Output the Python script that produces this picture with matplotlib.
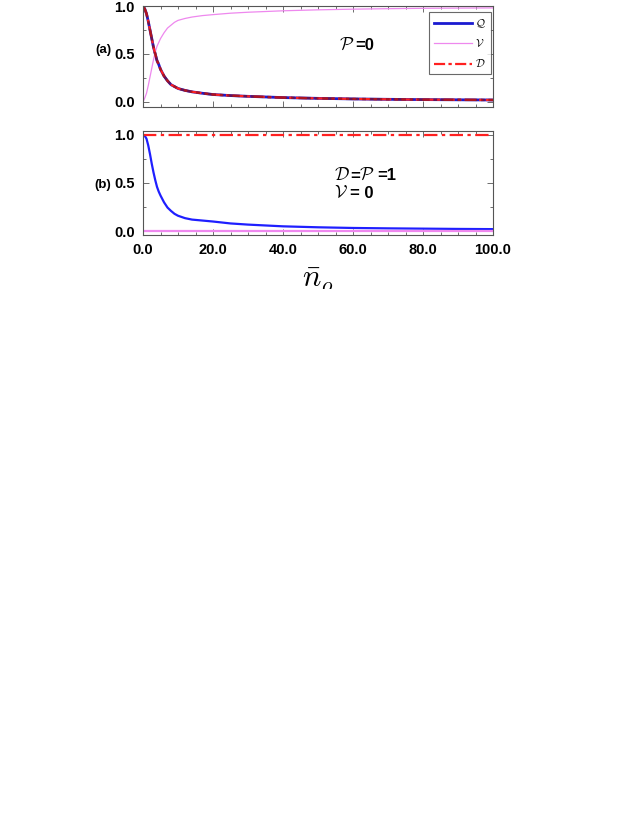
import matplotlib
matplotlib.use("Agg")
import matplotlib.pyplot as plt
from matplotlib.ticker import MultipleLocator, FormatStrFormatter
from matplotlib.patches import Rectangle

plt.rcParams['font.family'] = ['Liberation Sans', 'DejaVu Sans']
plt.rcParams['mathtext.fontset'] = 'cm'

# data
n_bar = [0, 0.5, 1, 1.5, 2, 2.5, 3, 3.5, 4, 4.5, 5, 6, 7, 8, 9, 10, 12, 14, 17, 20,
         25, 30, 40, 50, 60, 70, 80, 90, 100]
Q_a = [1.0, 0.97, 0.92, 0.84, 0.75, 0.66, 0.57, 0.50, 0.43, 0.39, 0.34, 0.27, 0.22,
       0.18, 0.16, 0.14, 0.12, 0.105, 0.09, 0.077, 0.066, 0.058, 0.045, 0.037, 0.031,
       0.027, 0.024, 0.022, 0.02]
D_a = Q_a
V_a = [0.0, 0.04, 0.09, 0.17, 0.26, 0.35, 0.44, 0.52, 0.58, 0.62, 0.66, 0.72, 0.77,
       0.80, 0.83, 0.85, 0.87, 0.885, 0.9, 0.91, 0.925, 0.935, 0.95, 0.96, 0.967,
       0.972, 0.976, 0.978, 0.98]
Q_b = [1.0, 0.99, 0.96, 0.89, 0.80, 0.70, 0.61, 0.53, 0.46, 0.41, 0.37, 0.30, 0.245,
       0.21, 0.18, 0.16, 0.135, 0.12, 0.11, 0.10, 0.08, 0.068, 0.05, 0.04, 0.033,
       0.029, 0.026, 0.023, 0.021]
D_b = [1.0] * len(n_bar)
V_b = [0.0] * len(n_bar)

xticks = [0, 20, 40, 60, 80, 100]
yticks = [0.0, 0.5, 1.0]

W, H = 644, 833
fig = plt.figure(figsize=(W / 100, H / 100), dpi=100)

def fax(l, t, r, b):
    return fig.add_axes([l / W, 1 - b / H, (r - l) / W, (b - t) / H])

ax_a = fax(143, 6, 493, 106.7)
ax_b = fax(143, 131, 493, 235)

blue = '#1f1fff'
navy = '#1a1ad0'
violet = '#ee88ee'
red = '#ff2020'
dashdot = (0, (5, 1.5, 1.5, 1.5))

l1, = ax_a.plot(n_bar, Q_a, color=navy, lw=2.0, label=r'$\mathcal{Q}$')
l2, = ax_a.plot(n_bar, V_a, color=violet, lw=0.9, label=r'$\mathcal{V}$')
l3, = ax_a.plot(n_bar, D_a, color=red, lw=1.6, ls=dashdot, label=r'$\mathcal{D}$')
ax_a.plot(n_bar, D_a, color='#8a1020', lw=1.8, ls=dashdot, alpha=0.7)

ax_b.plot(n_bar, Q_b, color=blue, lw=1.6)
ax_b.plot(n_bar, V_b, color=violet, lw=1.6)
ax_b.plot(n_bar, D_b, color=red, lw=1.6, ls=(0, (6, 2, 1.5, 2)))

ax_a.set_ylim(-0.05, 1.0)
ax_b.set_ylim(-0.04, 1.04)

for ax in (ax_a, ax_b):
    ax.set_xlim(0, 100)
    ax.set_xticks(xticks)
    ax.set_yticks(yticks)
    ax.xaxis.set_minor_locator(MultipleLocator(5))
    ax.yaxis.set_minor_locator(MultipleLocator(0.25))
    ax.yaxis.set_major_formatter(FormatStrFormatter('%.1f'))
    ax.xaxis.set_major_formatter(FormatStrFormatter('%.1f'))
    ax.tick_params(which='both', direction='in', top=True, right=True,
                   color='#555555', width=0.6)
    ax.tick_params(which='major', length=4, labelsize=10.5, pad=6)
    ax.tick_params(which='minor', length=2.5)
    for lab in ax.get_xticklabels() + ax.get_yticklabels():
        lab.set_fontweight('bold')
    for s in ax.spines.values():
        s.set_color('#555555')
        s.set_linewidth(0.8)

ax_a.tick_params(labelbottom=False)

leg = ax_a.legend(handles=[l1, l2, l3], loc='upper right',
                  bbox_to_anchor=(0.994, 0.94), fontsize=8, frameon=True,
                  fancybox=False, handlelength=3.4, handletextpad=0.3,
                  borderpad=0.45, labelspacing=0.75, borderaxespad=0)
leg.get_frame().set_edgecolor('#444444')
leg.get_frame().set_linewidth(0.8)

fig.text(103 / W, 1 - 50 / H, '(a)', fontsize=9.5, fontweight='bold',
         ha='center', va='center')
fig.text(103 / W, 1 - 185 / H, '(b)', fontsize=9.5, fontweight='bold',
         ha='center', va='center')

fig.text(339 / W, 1 - 45 / H, r'$\mathcal{P}$', fontsize=13, ha='left', va='center')
fig.text(355 / W, 1 - 46 / H, '=0', fontsize=12, fontweight='bold', ha='left', va='center')

fig.text(334 / W, 1 - 175 / H, r'$\mathcal{D}$', fontsize=13, ha='left', va='center')
fig.text(350 / W, 1 - 176 / H, '=', fontsize=12, fontweight='bold', ha='left', va='center')
fig.text(359 / W, 1 - 175 / H, r'$\mathcal{P}$', fontsize=13, ha='left', va='center')
fig.text(377 / W, 1 - 176 / H, '=1', fontsize=12, fontweight='bold', ha='left', va='center')
fig.text(334 / W, 1 - 193 / H, r'$\mathcal{V}$', fontsize=13, ha='left', va='center')
fig.text(350 / W, 1 - 194 / H, '= 0', fontsize=12, fontweight='bold', ha='left', va='center')

fig.text(318 / W, 1 - 280 / H, r'$\bar{n}_o$', fontsize=22, ha='center', va='center')
# the reference is cut just below the axis label
fig.patches.append(Rectangle((0, 0), 1, 1 - 289 / H, transform=fig.transFigure,
                             facecolor='white', edgecolor='none', zorder=10))

fig.savefig('out.png', dpi=100, facecolor='white')
